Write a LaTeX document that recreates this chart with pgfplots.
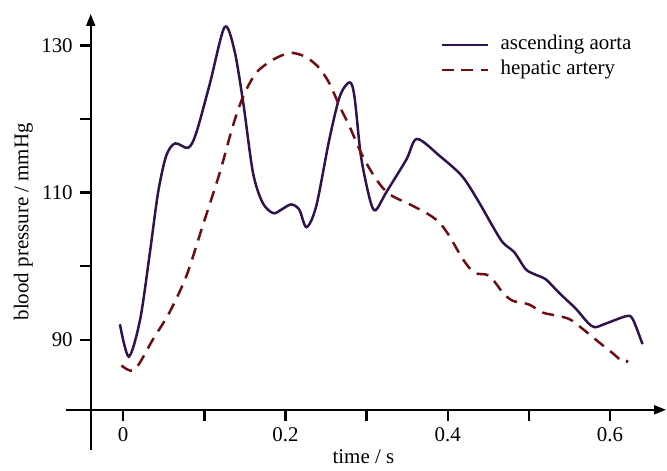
\documentclass[border=0pt]{standalone}
\usepackage{fontspec}
\setmainfont{Liberation Serif}
\usepackage{pgfplots}
\pgfplotsset{compat=1.18}
\usetikzlibrary{arrows.meta}
\definecolor{aortacolor}{RGB}{48,18,76}
\definecolor{hepaticcolor}{RGB}{110,14,18}

\begin{document}
\begin{tikzpicture}
\begin{axis}[
    scale only axis,
    width=288.5pt,
    height=198.5pt,
    xmin=-0.04, xmax=0.669,
    ymin=80.47, ymax=134.3,
    axis lines=left,
    axis line style={line width=1pt, -{Triangle[length=6pt,width=4.5pt]}},
    clip=false,
    xtick={0,0.1,0.2,0.3,0.4,0.5,0.6},
    xticklabels={0,,0.2,,0.4,,0.6},
    ytick={90,100,110,120,130},
    yticklabels={90,,110,,130},
    tick align=outside,
    major tick length=5.5pt,
    tick style={line width=1.2pt, black},
    /pgf/number format/assume math mode=true,
    font=\fontsize{10.5}{12.6}\selectfont,
    tick label style={font=\fontsize{10.5}{12.6}\selectfont},
    xlabel={time / s},
    ylabel={blood pressure / mmHg},
    xlabel style={at={(axis description cs:0.474,-0.118)}, anchor=center},
    ylabel style={at={(axis description cs:-0.117,0.475)}, anchor=center},
    legend style={draw=none, fill=none, at={(axis description cs:0.607,0.953)},
        anchor=north west, font=\fontsize{10.5}{12.6}\selectfont,
        row sep=0.5pt, inner sep=0pt,
        nodes={inner sep=1pt, text height=7.5pt, text depth=2.5pt},
        /tikz/every odd column/.append style={column sep=4.5pt}},
    legend cell align=left,
    legend image code/.code={\draw[#1] (0pt,0pt) -- (23.5pt,0pt);},
]
\addplot[color=aortacolor, line width=1.25pt, smooth, tension=0.5] coordinates {
    (-0.004,92.1) (0.007,87.7) (0.021,92.8) (0.033,101.9) (0.043,110.0)
    (0.053,115.0) (0.064,116.7) (0.080,116.1) (0.090,118.1) (0.107,124.9)
    (0.125,132.5) (0.137,129.4) (0.148,122.2) (0.160,112.7) (0.172,108.6)
    (0.185,107.2) (0.195,107.7) (0.207,108.4) (0.217,107.7) (0.226,105.3)
    (0.238,108.2) (0.254,117.2) (0.267,123.1) (0.279,125.0) (0.285,123.1)
    (0.293,115.0) (0.304,109.1) (0.311,107.6) (0.324,110.0) (0.349,114.5)
    (0.362,117.3) (0.390,115.0) (0.418,112.2) (0.439,108.6) (0.455,105.5)
    (0.468,103.2) (0.482,101.9) (0.496,99.6) (0.507,98.9) (0.521,98.2)
    (0.537,96.4) (0.558,94.2) (0.572,92.4) (0.581,91.7) (0.595,92.2)
    (0.620,93.2) (0.628,92.8) (0.640,89.4)
};
\addlegendentry{ascending aorta}

\addplot[color=hepaticcolor, line width=1.25pt, dash pattern=on 6pt off 4pt, smooth, tension=0.5] coordinates {
    (-0.002,86.5) (0.014,85.9) (0.037,90.1) (0.057,93.7) (0.078,98.7)
    (0.098,105.5) (0.119,112.7) (0.135,119.0) (0.148,123.1) (0.164,126.3)
    (0.185,128.1) (0.205,129.0) (0.220,128.7) (0.230,128.1) (0.242,126.9)
    (0.254,124.9) (0.267,121.7) (0.279,119.0) (0.295,115.0) (0.312,111.8)
    (0.328,109.8) (0.357,108.2) (0.377,107.0) (0.390,105.9) (0.402,104.1)
    (0.419,100.9) (0.433,99.1) (0.451,98.7) (0.468,96.4) (0.480,95.3)
    (0.500,94.8) (0.517,93.7) (0.533,93.3) (0.550,92.8) (0.566,91.5)
    (0.587,89.6) (0.604,88.1) (0.617,86.9) (0.622,87.2)
};
\addlegendentry{hepatic artery}

% axis extensions past the crossing point
\draw[line width=1pt] (axis cs:-0.0705,80.47) -- (axis cs:-0.04,80.47);
\draw[line width=1pt] (axis cs:-0.04,80.47) -- (axis cs:-0.04,75.0);
% page frame with the reference's proportions
\path (axis cs:-0.1518,72.74) rectangle (axis cs:0.6692,136.2);
\end{axis}
\end{tikzpicture}
\end{document}
